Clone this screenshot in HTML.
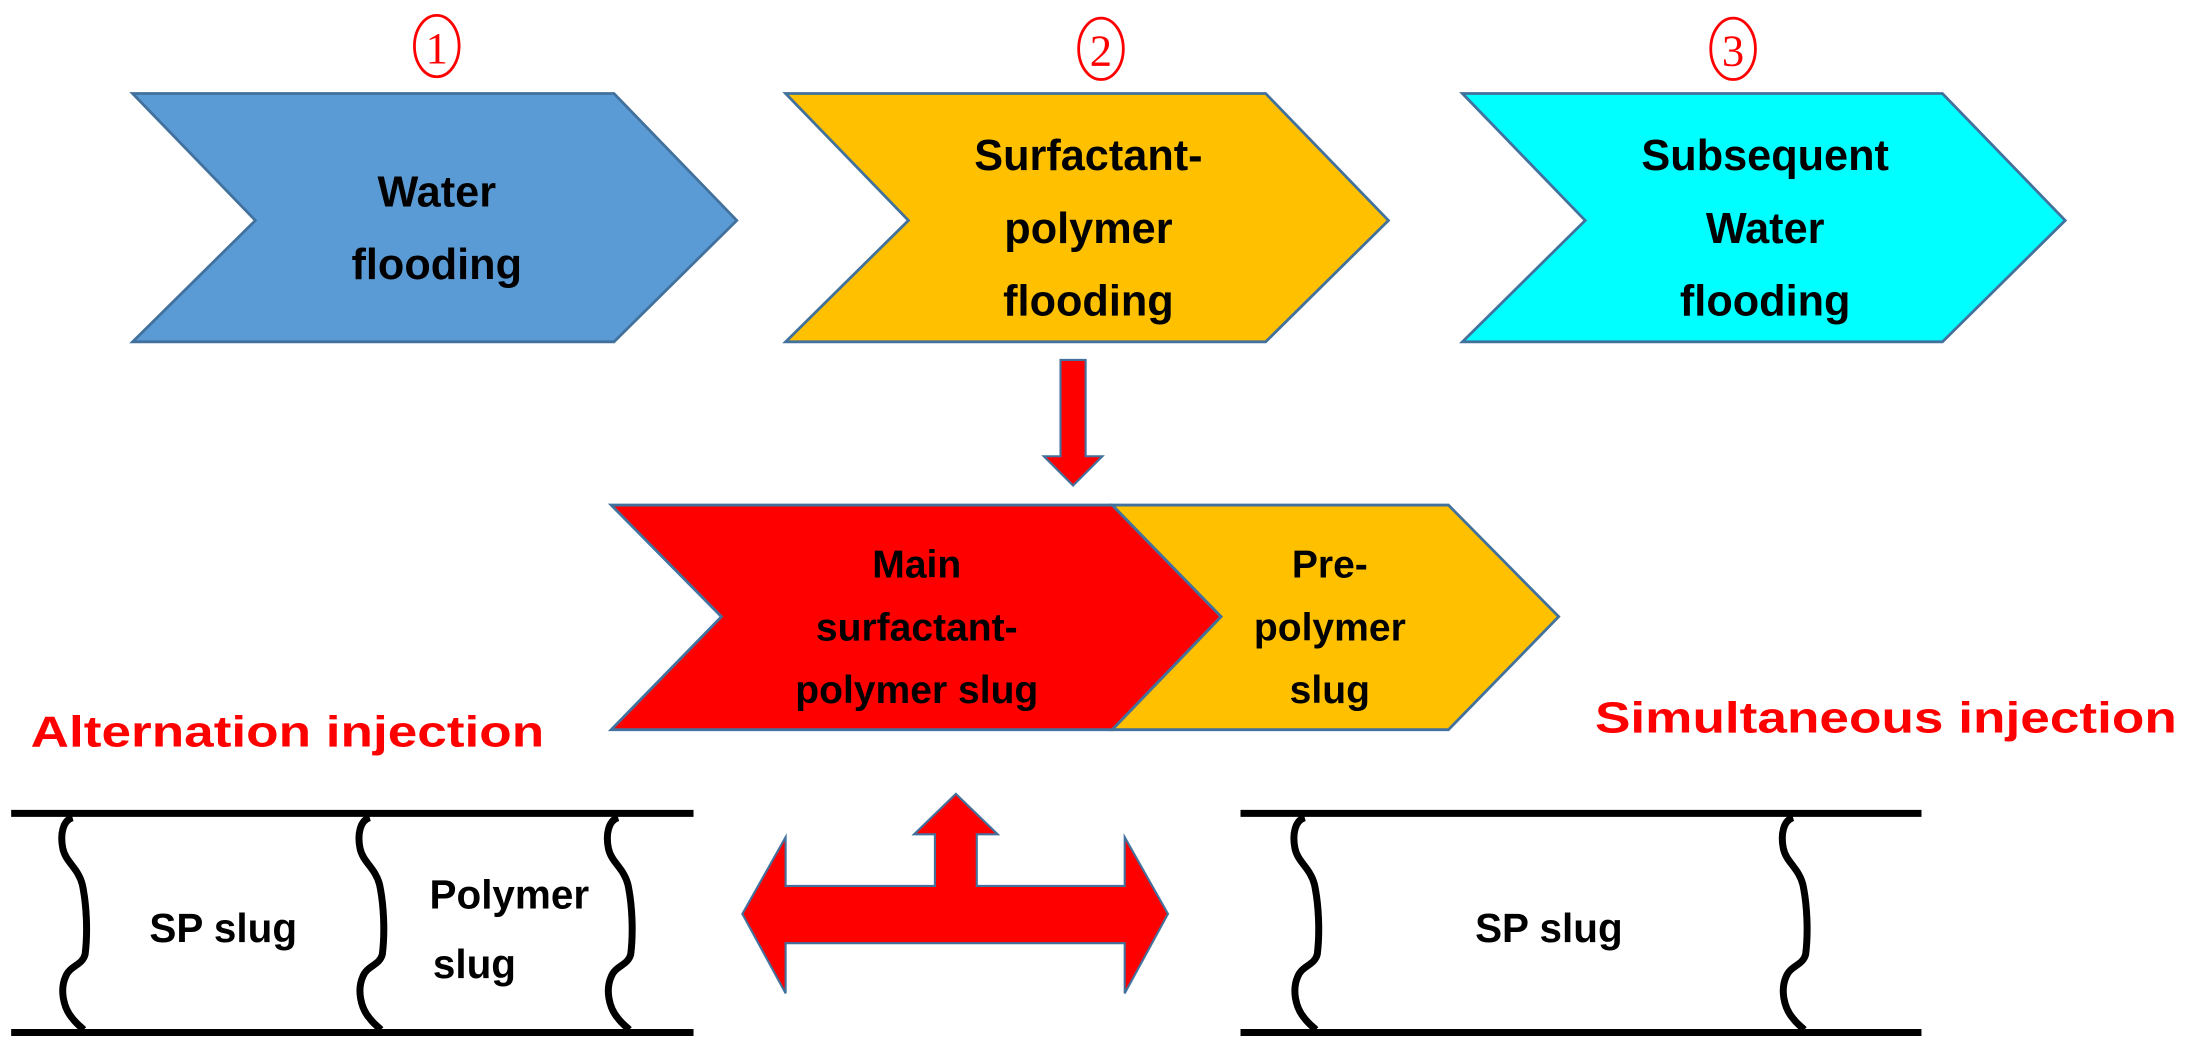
<!DOCTYPE html>
<html><head><meta charset="utf-8"><style>
html,body{margin:0;padding:0;background:#fff;overflow:hidden;}
svg{display:block;}
text{font-family:"Liberation Sans",sans-serif;font-weight:bold;}
</style></head><body>
<svg width="2188" height="1052" viewBox="0 0 1568 754" preserveAspectRatio="none" xmlns="http://www.w3.org/2000/svg">
<defs>
<path id="wave" d="M0,0 c-7,2 -9,12 -7,22 c2,10 11,14 14,26 c3,14 4,34 2,50 c-2,8 -11,8 -14,16 c-4,9 -2,22 5,30 c3,4 6,6 8,8" fill="none" stroke="#000" stroke-width="5"/>
</defs>
<g fill="none" stroke="#f00" stroke-width="2">
<ellipse cx="313" cy="33" rx="16" ry="22"/><ellipse cx="789" cy="35" rx="16" ry="22"/><ellipse cx="1242" cy="35" rx="16" ry="22"/>
</g>
<g fill="#f00" font-size="32" text-anchor="middle">
<text x="313" y="45" style="font-weight:normal;font-family:'Liberation Serif',serif">1</text>
<text x="789" y="47" style="font-weight:normal;font-family:'Liberation Serif',serif">2</text>
<text x="1242" y="47" style="font-weight:normal;font-family:'Liberation Serif',serif">3</text>
</g>
<polygon points="95,67 440,67 528,158 440,245 95,245 183,158" fill="#5B9BD5" stroke="#41719C" stroke-width="2"/>
<polygon points="563,67 907,67 995,158 907,245 563,245 651,158" fill="#FFC000" stroke="#41719C" stroke-width="2"/>
<polygon points="1048,67 1392,67 1480,158 1392,245 1048,245 1136,158" fill="#00FFFF" stroke="#41719C" stroke-width="2"/>
<g font-size="31" text-anchor="middle" fill="#000">
<text x="313" y="148">Water</text><text x="313" y="200">flooding</text>
<text x="780" y="122">Surfactant-</text><text x="780" y="174">polymer</text><text x="780" y="226">flooding</text>
<text x="1265" y="122">Subsequent</text><text x="1265" y="174">Water</text><text x="1265" y="226">flooding</text>
</g>
<polygon points="760,258 778,258 778,327 790,327 769,348 748,327 760,327" fill="#f00" stroke="#41719C" stroke-width="1.5"/>
<polygon points="797,362 1038,362 1117,442 1038,523 797,523 875,442" fill="#FFC000" stroke="#41719C" stroke-width="2"/>
<polygon points="438,362 797,362 875,442 797,523 438,523 517,442" fill="#f00" stroke="#41719C" stroke-width="2"/>
<g font-size="28" text-anchor="middle" fill="#000">
<text x="657" y="414">Main</text><text x="657" y="459">surfactant-</text><text x="657" y="504">polymer slug</text>
<text x="953" y="414">Pre-</text><text x="953" y="459">polymer</text><text x="953" y="504">slug</text>
</g>
<g font-size="31" fill="#f00">
<text x="22" y="535" textLength="368" lengthAdjust="spacingAndGlyphs">Alternation injection</text>
<text x="1143" y="525" textLength="417" lengthAdjust="spacingAndGlyphs">Simultaneous  injection</text>
</g>
<g stroke="#000" stroke-width="5">
<line x1="8" y1="583" x2="497" y2="583"/><line x1="8" y1="740" x2="497" y2="740"/>
<line x1="889" y1="583" x2="1377" y2="583"/><line x1="889" y1="740" x2="1377" y2="740"/>
</g>
<use href="#wave" x="52" y="586"/><use href="#wave" x="265" y="586"/><use href="#wave" x="443" y="586"/>
<use href="#wave" x="935" y="586"/><use href="#wave" x="1285" y="586"/>
<g font-size="29" text-anchor="middle" fill="#000">
<text x="160" y="675">SP slug</text><text x="365" y="651">Polymer</text><text x="340" y="701">slug</text>
<text x="1110" y="675">SP slug</text>
</g>
<polygon points="532,655 563,600 563,635 670,635 670,598 655,598 685,569 715,598 700,598 700,635 806,635 806,600 837,655 806,712 806,676 563,676 563,712" fill="#f00" stroke="#41719C" stroke-width="1.5"/>
</svg>
</body></html>
